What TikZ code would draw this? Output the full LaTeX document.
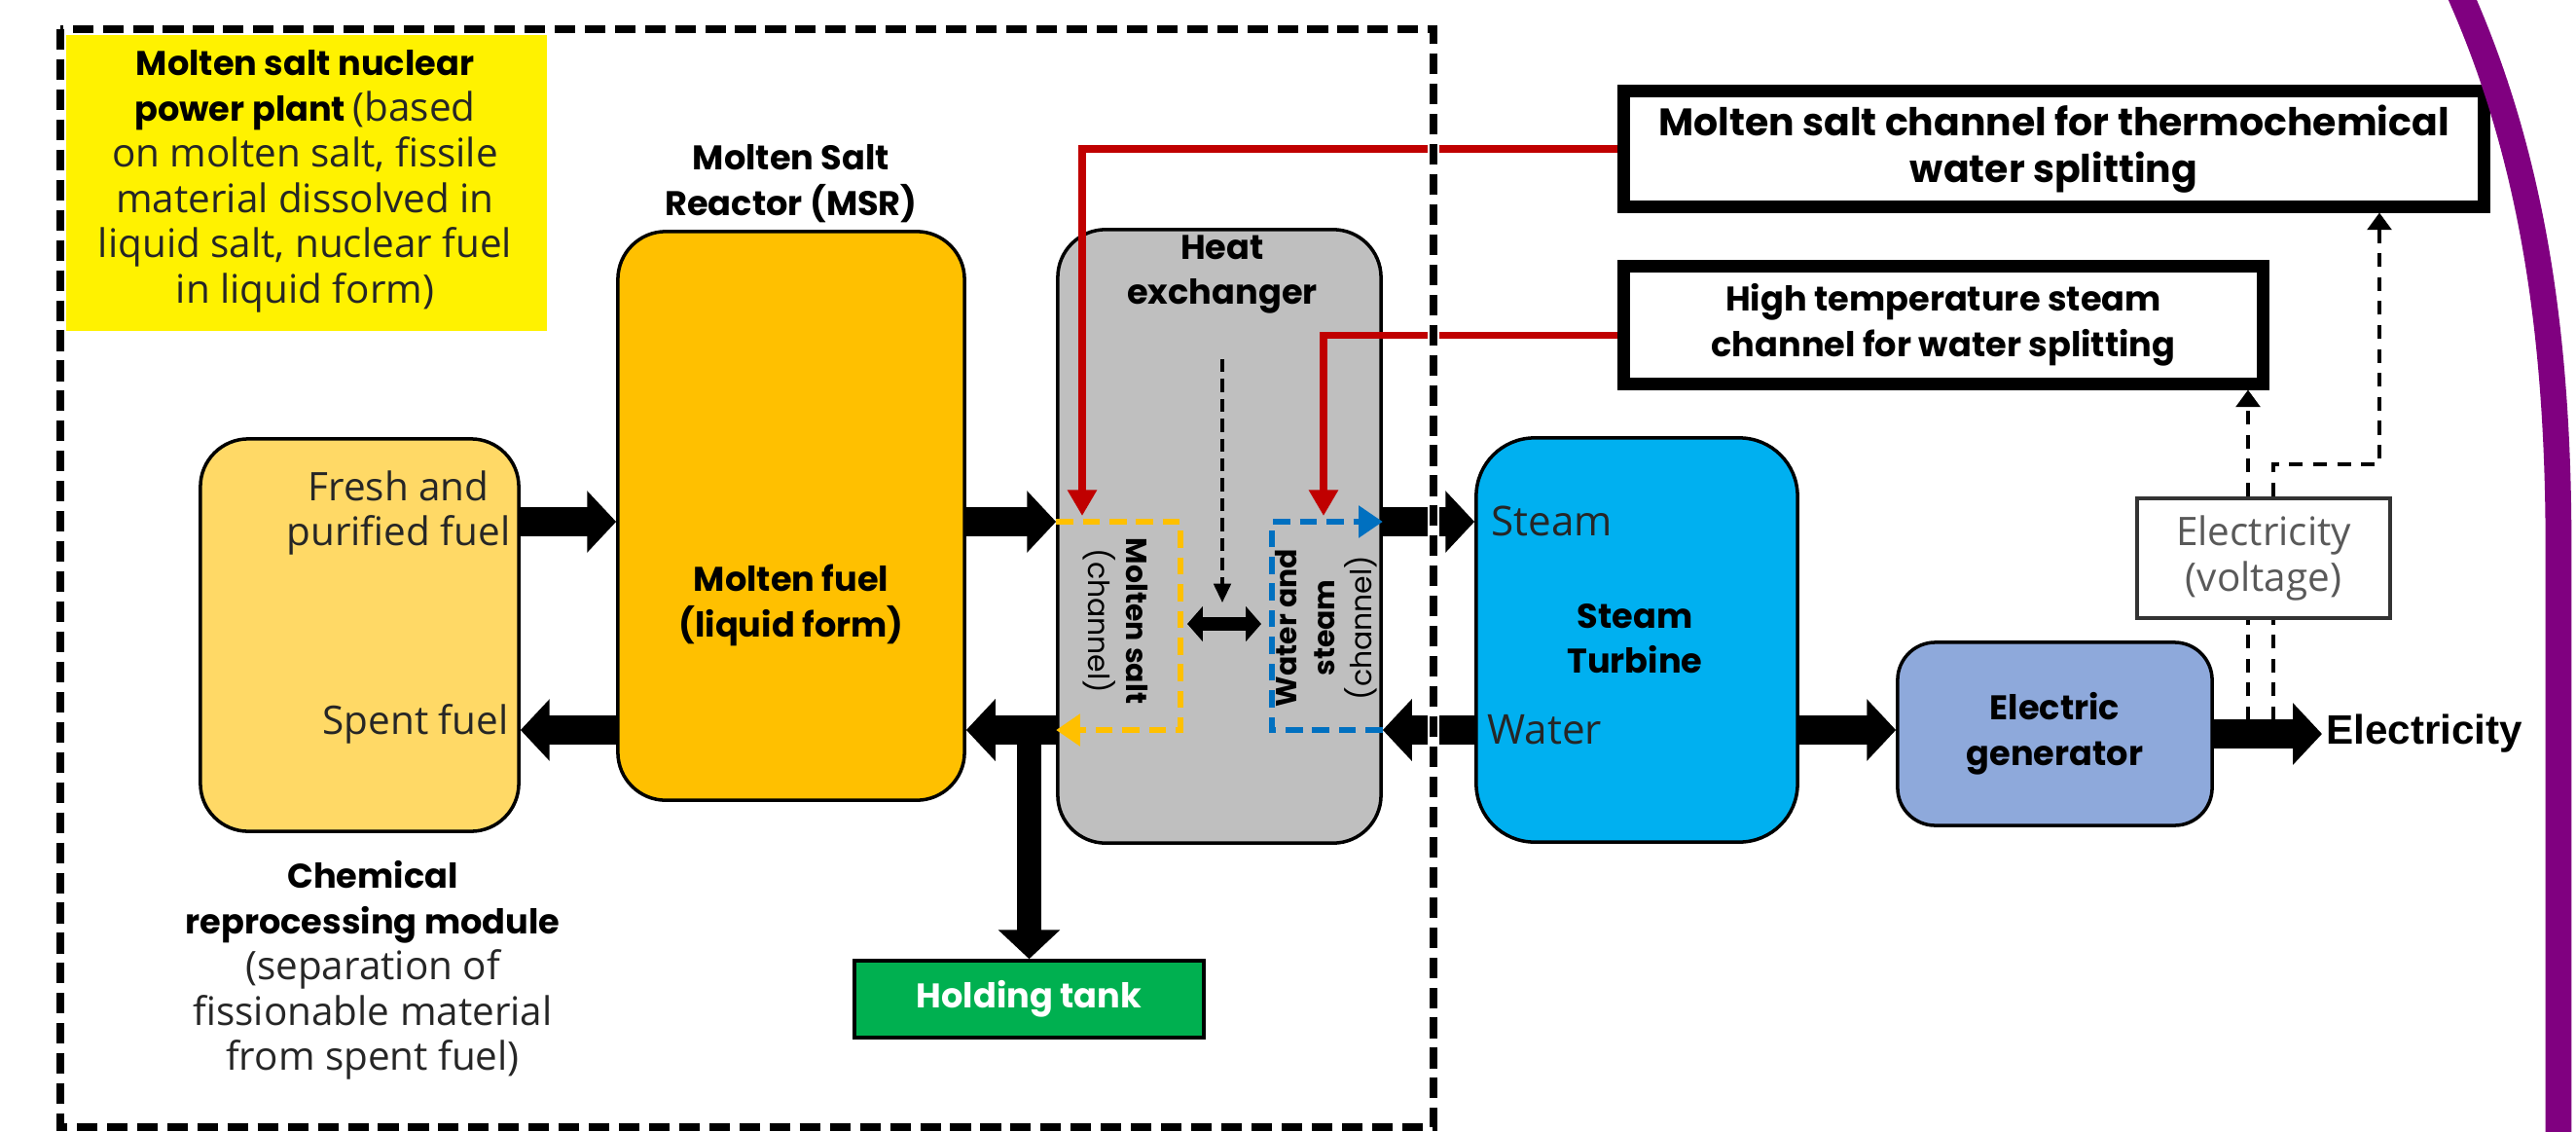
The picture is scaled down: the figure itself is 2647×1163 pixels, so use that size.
\documentclass[tikz,border=0pt]{standalone}
\usepackage{fontspec}
\setmainfont{Poppins}
\newfontfamily\thinfont{Open Sans}
\newfontfamily\arialfont{Liberation Sans}
\usetikzlibrary{arrows.meta}
\definecolor{msrfill}{HTML}{FFC000}
\definecolor{chemfill}{HTML}{FFD966}
\definecolor{hxfill}{HTML}{BFBFBF}
\definecolor{turbfill}{HTML}{00B0F0}
\definecolor{genfill}{HTML}{8EA9DB}
\definecolor{tankfill}{HTML}{00B050}
\definecolor{hotred}{HTML}{C00000}
\definecolor{chanblue}{HTML}{0070C0}
\definecolor{edgepurple}{HTML}{800080}
\newcommand{\bsize}{\fontsize{10}{13.3}\selectfont}
\newcommand{\lsize}{\fontsize{11.5}{13.3}\selectfont}
\newcommand{\csize}{\fontsize{8.5}{11}\selectfont}
\newcommand{\litetxt}[1]{{\thinfont\mdseries\lsize\color{black!85}#1}}

\begin{document}
\begin{tikzpicture}[x=0.01cm,y=-0.01cm,
 unit/.style={draw=black,line width=1pt,rounded corners=14pt,inner sep=0pt},
 lab/.style={font=\bsize\bfseries,align=center,inner sep=0pt},
 lite/.style={font=\thinfont\lsize,text=black!85,align=center,inner sep=0pt},
 target/.style={draw=black,line width=3.7pt,fill=white,inner sep=0pt,align=center,font=\bsize\bfseries},
 flow/.style={line width=8.5pt,-{Triangle[width=17.6pt,length=8.5pt]}},
 chan/.style={line width=1.7pt,dash pattern=on 5pt off 2.8pt,-{Triangle[width=9pt,length=7pt]}},
 hot/.style={hotred,line width=2.2pt,-{Triangle[width=8.2pt,length=7.6pt]}},
 sig/.style={line width=1.1pt,dash pattern=on 4pt off 3pt,-{Triangle[width=7pt,length=5pt]}},
 plainsig/.style={line width=1.1pt,dash pattern=on 4pt off 3pt}]
\useasboundingbox (0,0) rectangle (2647,1163);

\node[fill=yellow,minimum width=4.97cm,minimum height=3.07cm,inner sep=0pt,align=center,font=\bsize\bfseries] (note) at (313.5,186.5) {Molten salt nuclear\\power plant \litetxt{(based}\\\litetxt{on molten salt, fissile}\\\litetxt{material dissolved in}\\\litetxt{liquid salt, nuclear fuel}\\\litetxt{in liquid form)}};

\node[unit,fill=chemfill,minimum width=3.27cm,minimum height=4.03cm] (chem) at (369.5,652.5) {};
\node[unit,fill=msrfill,minimum width=3.56cm,minimum height=5.84cm] (msr) at (813,530) {};
\node[unit,fill=hxfill,minimum width=3.32cm,minimum height=6.30cm] (hx) at (1253,551) {};
\node[unit,fill=turbfill,minimum width=3.30cm,minimum height=4.15cm,rounded corners=17pt] (turb) at (1682,657.5) {};
\node[unit,fill=genfill,minimum width=3.23cm,minimum height=1.88cm,rounded corners=11pt,align=center,font=\bsize\bfseries] (gen) at (2111.5,754) {Electric\\generator};
\node[draw=black,line width=1pt,fill=tankfill,minimum width=3.59cm,minimum height=0.79cm,inner sep=0pt,text=white,font=\bsize\bfseries] (tank) at (1057.5,1026.5) {Holding tank};
\node[target,minimum width=8.83cm,minimum height=1.18cm,font=\fontsize{11.2}{13.8}\selectfont\bfseries] (msbox) at (2110.5,153) {Molten salt channel for thermochemical\\water splitting};
\node[target,minimum width=6.56cm,minimum height=1.20cm] (htbox) at (1997,334) {High temperature steam\\channel for water splitting};
\node[draw=black!80,line width=1.2pt,fill=white,minimum width=2.60cm,minimum height=1.23cm,inner sep=0pt,align=center,font=\thinfont\lsize,text=black!65] (volt) at (2326,573.5) {Electricity\\(voltage)};

\node[lab] (msrtitle) at (813,189) {Molten Salt\\Reactor (MSR)};
\node[lab] (msrtxt) at (813,622) {Molten fuel\\(liquid form)};
\node[lite,anchor=east] (fresh) at (525,527) {Fresh and\\purified fuel};
\node[lite,anchor=east] (spent) at (523,744) {Spent fuel};
\node[lab] (chemcap) at (383,997) {Chemical\\reprocessing module\\\litetxt{(separation of}\\\litetxt{fissionable material}\\\litetxt{from spent fuel)}};
\node[lab] (hxtitle) at (1256,282) {Heat\\exchanger};
\node[lab,font=\csize\bfseries,rotate=-90] (mstxt) at (1146,638) {Molten salt\\\mdseries(channel)};
\node[lab,font=\csize\bfseries,rotate=90] (wstxt) at (1363,645) {Water and\\steam\\\mdseries(channel)};
\node[lite,anchor=west,font=\thinfont\fontsize{12}{14}\selectfont] (steamlbl) at (1532,535) {Steam};
\node[lite,anchor=west,font=\thinfont\fontsize{12}{14}\selectfont] (waterlbl) at (1528,750) {Water};
\node[lab] (turbtxt) at (1680,656) {Steam\\Turbine};
\node[font=\arialfont\bfseries\fontsize{12}{14}\selectfont,anchor=west,inner sep=1pt] (elec) at (2386,754) {Electricity};

\coordinate (top) at (0,536);
\coordinate (bot) at (0,750);
\coordinate (split) at (bot -| tank.north);
\coordinate (yc) at (1213,0);
\coordinate (bc) at (1307,0);
\coordinate (r1) at (1112,530);
\coordinate (r2) at (1360,530);
\coordinate (xa) at (1220,641);
\coordinate (xb) at (1296,641);
\coordinate (da) at (1256,369);
\coordinate (db) at (1256,619);
\coordinate (e1) at (2310,740);
\coordinate (e2) at (2336,740);
\coordinate (e3) at (2445,477);

\draw[flow] (top -| chem.east) -- (top -| msr.west);
\draw[flow] (bot -| msr.west) -- (bot -| chem.east);
\draw[flow] (top -| msr.east) -- (top -| hx.west);
\draw[flow] (bot -| hx.west) -- (bot -| msr.east);
\draw[flow,line width=7pt] (split) -- (tank.north);
\draw[flow] (top -| hx.east) -- (top -| turb.west);
\draw[flow] (bot -| turb.west) -- (bot -| hx.east);
\draw[flow] (bot -| turb.east) -- (bot -| gen.west);
\draw[flow] (gen.east) -- (elec.west);

\draw[chan,msrfill] (top -| hx.west) -- (top -| yc) -- (bot -| yc) -- (bot -| hx.west);
\draw[chan,chanblue] (bot -| hx.east) -- (bot -| bc) -- (top -| bc) -- (top -| hx.east);
\draw[line width=3.8pt,{Triangle[width=10pt,length=4.5pt]}-{Triangle[width=10pt,length=4.5pt]}] (xa) -- (xb);
\draw[line width=0.9pt,dash pattern=on 3.8pt off 2pt,-{Triangle[width=5pt,length=5.5pt]}] (da) -- (db);

\draw[hot] (msbox.west) -| (r1);
\draw[hot] ([yshift=-3pt]htbox.west) -| (r2);

\draw[plainsig] (e1) -- (e1 |- volt.south);
\draw[plainsig] (e2) -- (e2 |- volt.south);
\draw[sig] (e1 |- volt.north) -- (e1 |- htbox.south);
\draw[sig] (e2 |- volt.north) |- (e3) -- (e3 |- msbox.south);

\draw[white,line width=3.4pt] (62,30) rectangle (1473,1158);
\draw[line width=2.3pt,dash pattern=on 6pt off 2.8pt] (62,30) rectangle (1473,1158);

\draw[edgepurple,line width=7.6pt] (2526,-10) .. controls (2598,150) and (2629,330) .. (2629,560) -- (2629,1175);
\end{tikzpicture}
\end{document}
